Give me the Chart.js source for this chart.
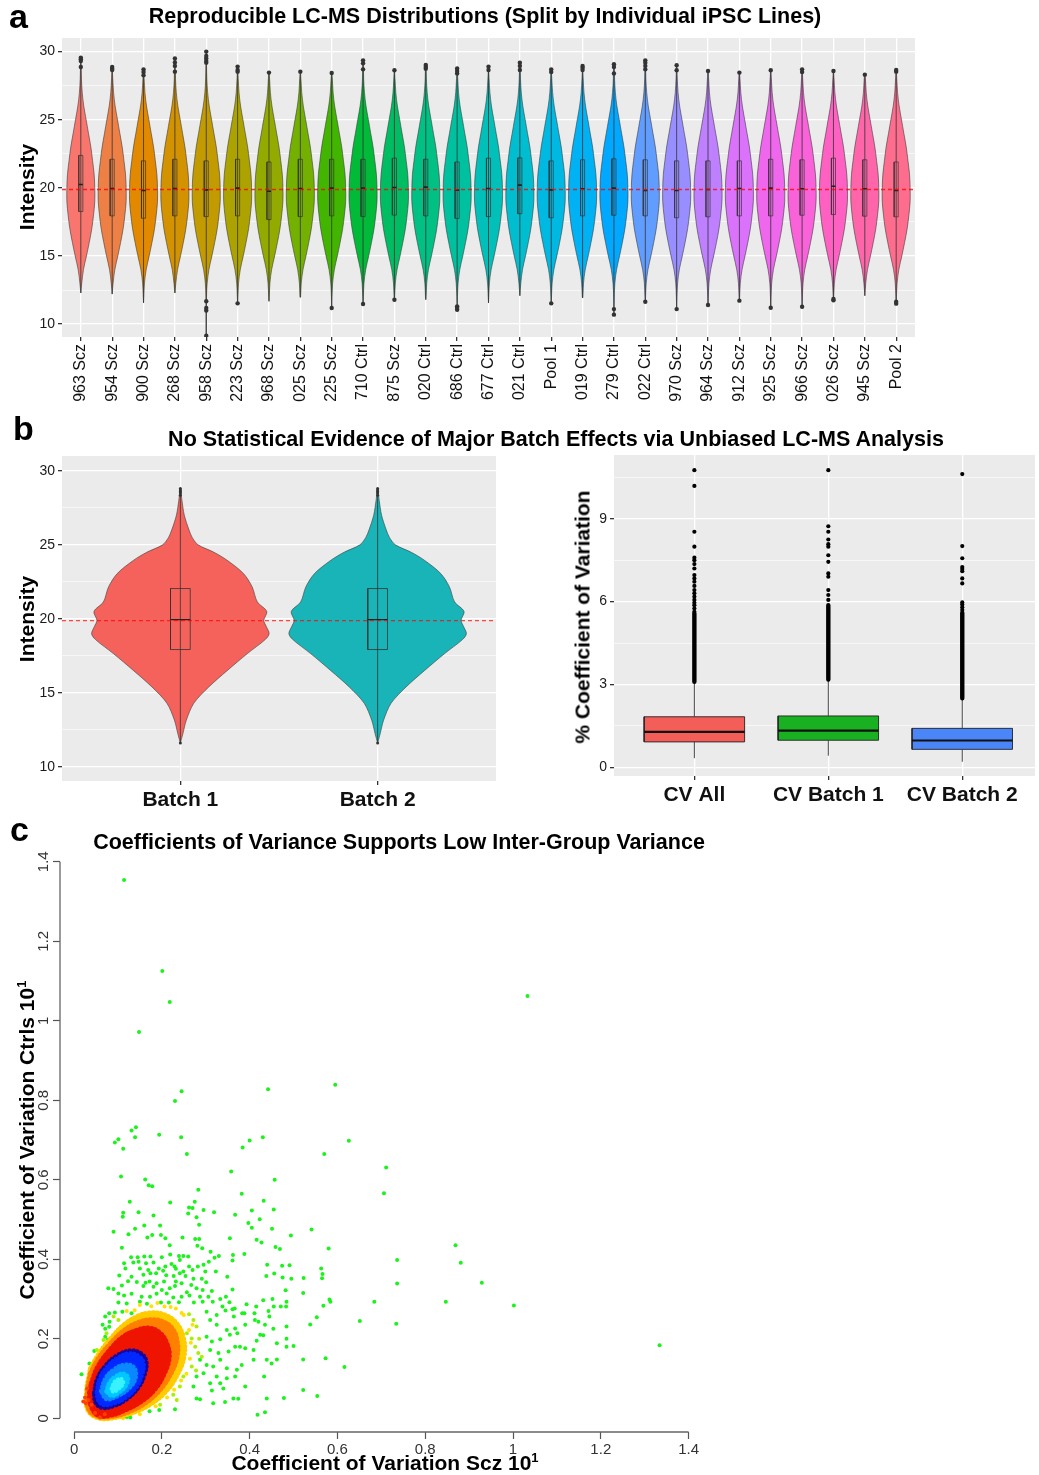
<!DOCTYPE html>
<html>
<head>
<meta charset="utf-8">
<title>LC-MS figure</title>
<script src="https://cdn.jsdelivr.net/npm/chart.js@4.4.1/dist/chart.umd.min.js"></script>
<style>
body { margin: 0; background: #fff; }
#page { position: relative; width: 1039px; height: 1475px; overflow: hidden; font-family: 'Liberation Sans', Arial, sans-serif; color: #000; }
canvas { position: absolute; }
.lbl { position: absolute; font-weight: bold; white-space: nowrap; line-height: 1; }
.panel { font-size: 34px; }
.ttl { font-size: 21.5px; transform: translateX(-50%); }
.axt { font-size: 21px; transform: translate(-50%, -50%); }
.rot { transform: translate(-50%, -50%) rotate(-90deg); }
</style>
</head>
<body>
<div id="page">
  <canvas id="chartA" width="1039" height="410" style="left:0;top:0"></canvas>
  <canvas id="chartB1" width="510" height="400" style="left:0;top:420px"></canvas>
  <canvas id="chartB2" width="519" height="400" style="left:520px;top:420px"></canvas>
  <canvas id="chartC" width="720" height="635" style="left:0;top:840px"></canvas>

  <div class="lbl panel" style="left:9px;top:-1px">a</div>
  <div class="lbl ttl" style="left:485px;top:6px">Reproducible LC-MS Distributions (Split by Individual iPSC Lines)</div>
  <div class="lbl axt rot" style="left:26px;top:187px">Intensity</div>

  <div class="lbl panel" style="left:13px;top:411px">b</div>
  <div class="lbl ttl" style="left:556px;top:428.5px">No Statistical Evidence of Major Batch Effects via Unbiased LC-MS Analysis</div>
  <div class="lbl axt rot" style="left:26px;top:619px">Intensity</div>
  <div class="lbl axt rot" style="left:582px;top:617px">% Coefficient of Variation</div>

  <div class="lbl panel" style="left:10px;top:812px">c</div>
  <div class="lbl ttl" style="left:399px;top:832px">Coefficients of Variance Supports Low Inter-Group Variance</div>
  <div class="lbl axt" style="left:385px;top:1462px">Coefficient of Variation Scz 10<sup style="font-size:13px">1</sup></div>
  <div class="lbl axt rot" style="left:26px;top:1140px">Coefficient of Variation Ctrls 10<sup style="font-size:13px">1</sup></div>
</div>

<script>
// ---------- panel a: per iPSC line ----------
const lineLabels = ['963 Scz', '954 Scz', '900 Scz', '268 Scz', '958 Scz', '223 Scz', '968 Scz', '025 Scz', '225 Scz',
  '710 Ctrl', '875 Scz', '020 Ctrl', '686 Ctrl', '677 Ctrl', '021 Ctrl', 'Pool 1', '019 Ctrl', '279 Ctrl', '022 Ctrl',
  '970 Scz', '964 Scz', '912 Scz', '925 Scz', '966 Scz', '026 Scz', '945 Scz', 'Pool 2'];
const lineMedian = [20.25, 19.95, 19.8, 19.95, 19.85, 19.98, 19.75, 19.95, 19.98, 19.98, 20.02, 20.05, 19.83, 19.95,
  20.2, 19.85, 19.93, 19.98, 19.8, 19.8, 19.88, 19.95, 19.98, 19.93, 20.12, 19.93, 19.8];
const lineQ1 = [18.26, 17.94, 17.77, 17.94, 17.89, 17.94, 17.67, 17.89, 17.94, 17.89, 18.0, 17.94, 17.75, 17.89,
  18.1, 17.8, 17.94, 17.99, 17.94, 17.8, 17.87, 17.94, 17.94, 17.99, 18.04, 17.92, 17.87];
const lineQ3 = [22.38, 22.1, 21.98, 22.1, 21.98, 22.1, 21.9, 22.1, 22.1, 22.1, 22.18, 22.1, 21.9, 22.18,
  22.2, 21.98, 22.06, 22.13, 22.06, 21.98, 21.98, 21.98, 22.1, 22.06, 22.18, 22.06, 21.9];
const lineMin = [12.28, 12.2, 11.55, 12.28, 9.14, 11.52, 11.67, 11.96, 11.18, 11.47, 11.79, 11.79, 11.05, 11.55,
  12.08, 11.52, 11.91, 10.69, 11.64, 11.1, 11.4, 11.72, 11.2, 11.27, 11.74, 12.08, 11.5];
const lineMax = [29.56, 28.87, 28.7, 29.5, 30.0, 28.9, 28.46, 28.53, 28.43, 29.36, 28.63, 29.02, 28.77, 28.9,
  29.19, 28.7, 28.95, 29.07, 29.36, 29.0, 28.58, 28.46, 28.63, 28.7, 28.58, 28.31, 28.65];
const lineOutliers = [
  [29.56, 29.44, 29.31, 28.87], [28.87, 28.75, 28.65], [28.7, 28.5, 28.26], [29.5, 29.2, 28.95, 28.53],
  [30.0, 29.68, 29.49, 29.31, 29.19, 11.67, 11.18, 11.0, 9.14], [28.9, 28.65, 28.53, 11.52], [28.46], [28.53],
  [28.43, 11.18], [29.36, 29.14, 28.7, 11.47], [28.63, 11.79], [29.02, 28.87, 28.75],
  [28.77, 28.58, 28.4, 11.3, 11.18, 11.05], [28.9, 28.65], [29.19, 28.95, 28.65], [28.7, 28.5, 11.52],
  [28.95, 28.82, 28.65], [29.07, 28.87, 28.4, 11.1, 10.69], [29.36, 29.19, 28.95, 28.7, 11.64], [29.0, 28.63, 11.1],
  [28.58, 11.4], [28.46, 11.72], [28.63, 11.2], [28.7, 28.5, 11.27], [28.58, 11.84, 11.74], [28.31],
  [28.65, 28.53, 11.64, 11.5]
];
// shared density outline (half width in category units)
const intensityLevels = [12, 13, 14, 15, 16, 17, 18, 19, 20, 21, 22, 23, 24, 25, 26, 27, 28, 29];
const lineHalfWidth = [0.01, 0.03, 0.085, 0.18, 0.27, 0.35, 0.405, 0.445, 0.445, 0.425, 0.375, 0.32, 0.245, 0.17, 0.095, 0.045, 0.02, 0.01];
const grandMedian = 19.88;
const intensityTicks = [10, 12.5, 15, 17.5, 20, 22.5, 25, 27.5, 30];

// ---------- panel b: batches ----------
const batchLabels = ['Batch 1', 'Batch 2'];
const batchLevels = [11.6, 12.25, 13.15, 14.3, 15.4, 16.5, 17.66, 18.6, 19.0, 19.5, 19.9, 20.5, 21.15, 22.16, 23.06, 23.96, 24.5, 25.0, 25.5, 26.0, 27.0, 28.0, 28.8];
const batchHalfWidth = [0, 0.013, 0.03, 0.068, 0.144, 0.237, 0.34, 0.43, 0.45, 0.435, 0.423, 0.438, 0.39, 0.364, 0.32, 0.237, 0.17, 0.09, 0.06, 0.044, 0.02, 0.008, 0];
const batchMedian = [19.95, 19.95];
const batchQ1 = [17.93, 17.93];
const batchQ3 = [22.05, 22.05];
const batchMin = [11.6, 11.6];
const batchMax = [28.8, 28.8];
const batchOutliers = [[28.35, 28.5, 28.6, 28.7, 28.8, 11.62], [28.35, 28.5, 28.6, 28.7, 28.8, 11.62]];

const cvLabels = ['CV All', 'CV Batch 1', 'CV Batch 2'];
const cvQ1 = [0.92, 0.98, 0.65];
const cvMedian = [1.28, 1.33, 0.97];
const cvQ3 = [1.83, 1.86, 1.41];
const cvLow = [0.33, 0.42, 0.2];
const cvHigh = [3.1, 3.18, 2.5];
const cvDenseTop = [5.57, 5.87, 5.6];
const cvSparse = [
  [5.63, 5.75, 5.87, 5.96, 6.06, 6.18, 6.3, 6.42, 6.57, 6.72, 6.84, 6.96, 7.2, 7.36, 7.5, 7.59, 7.99, 8.53, 10.19, 10.76],
  [6.06, 6.24, 6.42, 6.9, 7.02, 7.44, 7.68, 7.99, 8.08, 8.25, 8.53, 8.73, 10.76],
  [5.7, 5.8, 5.9, 5.97, 6.66, 6.84, 7.1, 7.18, 7.25, 7.57, 8.01, 10.62]
];
const cvTicks = [0, 1.5, 3, 4.5, 6, 7.5, 9, 10.5];

// ---------- panel c: CV Scz vs CV Ctrls ----------
const cvXTicks = [0, 0.2, 0.4, 0.6, 0.8, 1, 1.2, 1.4];
const cvYTicks = [0, 0.2, 0.4, 0.6, 0.8, 1, 1.2, 1.4];
// density contours of the dense core (outer to inner)
const densYellow = [[0.036, 0.125], [0.057, 0.165], [0.084, 0.203], [0.112, 0.235], [0.143, 0.257], [0.173, 0.266], [0.205, 0.262], [0.234, 0.240], [0.250, 0.203], [0.252, 0.158], [0.238, 0.113], [0.211, 0.068], [0.174, 0.034], [0.132, 0.012], [0.090, 0.000], [0.055, 0.000], [0.031, 0.020], [0.027, 0.063]];
const densOrange = [[0.036, 0.113], [0.055, 0.152], [0.082, 0.189], [0.112, 0.221], [0.143, 0.241], [0.173, 0.249], [0.201, 0.245], [0.225, 0.226], [0.236, 0.194], [0.236, 0.155], [0.222, 0.113], [0.197, 0.071], [0.164, 0.038], [0.127, 0.016], [0.090, 0.004], [0.055, 0.004], [0.033, 0.021], [0.029, 0.063]];
const densRed = [[0.038, 0.088], [0.053, 0.130], [0.080, 0.172], [0.110, 0.205], [0.141, 0.222], [0.171, 0.228], [0.196, 0.216], [0.212, 0.190], [0.218, 0.155], [0.207, 0.113], [0.184, 0.071], [0.152, 0.040], [0.116, 0.019], [0.082, 0.006], [0.055, 0.006], [0.039, 0.027], [0.034, 0.059]];
const densNavy = [[0.044, 0.063], [0.052, 0.101], [0.071, 0.134], [0.097, 0.159], [0.128, 0.172], [0.154, 0.164], [0.166, 0.143], [0.162, 0.109], [0.147, 0.075], [0.120, 0.046], [0.090, 0.029], [0.063, 0.025], [0.048, 0.038]];
const densBlue = [[0.050, 0.066], [0.057, 0.101], [0.074, 0.130], [0.098, 0.153], [0.126, 0.165], [0.149, 0.157], [0.160, 0.138], [0.156, 0.108], [0.143, 0.077], [0.119, 0.051], [0.092, 0.036], [0.067, 0.032], [0.054, 0.044]];
const densSky = [[0.060, 0.068], [0.070, 0.101], [0.090, 0.124], [0.114, 0.136], [0.137, 0.130], [0.142, 0.103], [0.127, 0.075], [0.099, 0.054], [0.073, 0.047]];
const densCyan = [[0.072, 0.067], [0.079, 0.090], [0.093, 0.106], [0.112, 0.114], [0.124, 0.104], [0.120, 0.082], [0.106, 0.066], [0.086, 0.055]];
const densCore = [[0.084, 0.074], [0.092, 0.093], [0.108, 0.100], [0.113, 0.088], [0.101, 0.072], [0.089, 0.066]];
// single proteins outside the core
const sparseGreen = [
  [0.114, 1.354], [0.201, 1.125], [0.218, 1.047], [0.148, 0.972], [1.033, 1.062], [0.595, 0.839], [0.442, 0.828], [0.245, 0.823], [0.230, 0.798],
  [0.141, 0.732], [0.131, 0.724], [0.139, 0.707], [0.101, 0.702], [0.093, 0.694], [0.112, 0.678], [0.194, 0.713], [0.244, 0.707], [0.257, 0.665], [0.384, 0.681], [0.400, 0.699], [0.430, 0.707], [0.626, 0.698], [0.570, 0.665],
  [0.358, 0.621], [0.107, 0.608], [0.162, 0.601], [0.170, 0.586], [0.178, 0.584], [0.457, 0.600], [0.283, 0.575], [0.382, 0.565], [0.127, 0.545], [0.219, 0.543], [0.275, 0.545], [0.432, 0.547], [0.262, 0.530], [0.270, 0.529], [0.295, 0.524], [0.147, 0.518], [0.111, 0.507], [0.112, 0.517], [0.260, 0.515], [0.279, 0.506], [0.319, 0.518], [0.367, 0.512], [0.405, 0.523], [0.455, 0.525],
  [0.181, 0.510], [0.423, 0.501], [0.090, 0.469], [0.124, 0.463], [0.139, 0.477], [0.160, 0.485], [0.196, 0.485], [0.285, 0.487], [0.397, 0.491], [0.405, 0.479], [0.451, 0.477], [0.541, 0.475], [0.167, 0.455], [0.178, 0.461], [0.198, 0.461], [0.208, 0.453], [0.247, 0.455], [0.276, 0.451], [0.285, 0.451], [0.355, 0.453], [0.416, 0.449], [0.427, 0.442], [0.494, 0.460], [0.109, 0.429], [0.218, 0.435], [0.281, 0.434], [0.292, 0.428], [0.459, 0.431], [0.469, 0.426], [0.580, 0.427], [0.311, 0.419], [0.388, 0.413], [0.362, 0.411],
  [0.130, 0.405], [0.145, 0.405], [0.160, 0.407], [0.174, 0.407], [0.200, 0.405], [0.219, 0.412], [0.239, 0.408], [0.249, 0.408], [0.260, 0.407], [0.320, 0.404], [0.330, 0.408], [0.361, 0.397], [0.114, 0.390], [0.135, 0.392], [0.147, 0.394], [0.164, 0.390], [0.181, 0.392], [0.208, 0.382], [0.222, 0.388], [0.229, 0.382], [0.241, 0.398], [0.262, 0.382], [0.282, 0.382], [0.295, 0.386], [0.307, 0.394], [0.440, 0.386], [0.474, 0.384], [0.491, 0.385], [0.563, 0.377],
  [0.117, 0.377], [0.150, 0.377], [0.169, 0.373], [0.193, 0.377], [0.203, 0.371], [0.232, 0.376], [0.249, 0.369], [0.270, 0.373], [0.299, 0.369], [0.323, 0.369], [0.103, 0.359], [0.131, 0.356], [0.158, 0.361], [0.174, 0.365], [0.187, 0.365], [0.210, 0.360], [0.227, 0.358], [0.241, 0.365], [0.254, 0.358], [0.272, 0.351], [0.291, 0.351], [0.301, 0.342], [0.349, 0.356], [0.438, 0.358], [0.456, 0.364], [0.475, 0.354], [0.495, 0.351], [0.523, 0.353], [0.566, 0.363], [0.565, 0.352],
  [0.123, 0.345], [0.143, 0.343], [0.163, 0.341], [0.172, 0.344], [0.188, 0.340], [0.205, 0.344], [0.232, 0.344], [0.245, 0.340], [0.267, 0.335],
  [0.078, 0.327], [0.090, 0.325], [0.109, 0.334], [0.158, 0.333], [0.181, 0.331], [0.200, 0.323], [0.218, 0.327], [0.230, 0.333], [0.257, 0.317], [0.279, 0.327], [0.293, 0.323], [0.314, 0.320], [0.361, 0.324], [0.482, 0.322], [0.522, 0.315], [0.101, 0.314], [0.114, 0.309], [0.131, 0.313], [0.154, 0.306], [0.173, 0.306], [0.188, 0.313], [0.211, 0.314], [0.226, 0.304], [0.245, 0.306], [0.263, 0.309], [0.287, 0.306], [0.306, 0.306], [0.333, 0.300], [0.346, 0.306], [0.354, 0.292], [0.393, 0.287], [0.431, 0.297], [0.452, 0.300], [0.484, 0.293], [0.582, 0.299], [0.584, 0.293], [0.684, 0.293],
  [0.101, 0.291], [0.120, 0.289], [0.150, 0.293], [0.166, 0.288], [0.198, 0.291], [0.216, 0.291], [0.239, 0.292], [0.273, 0.291], [0.293, 0.293], [0.316, 0.293], [0.338, 0.281], [0.361, 0.274], [0.383, 0.264], [0.366, 0.276], [0.415, 0.281], [0.443, 0.270], [0.455, 0.281], [0.471, 0.281], [0.483, 0.281], [0.568, 0.283], [0.080, 0.264], [0.071, 0.256], [0.093, 0.266], [0.110, 0.268], [0.131, 0.264], [0.302, 0.268], [0.325, 0.260], [0.345, 0.271], [0.364, 0.256], [0.388, 0.264], [0.411, 0.264], [0.445, 0.256], [0.553, 0.254],
  [0.065, 0.235], [0.071, 0.225], [0.080, 0.230], [0.081, 0.243], [0.310, 0.247], [0.325, 0.235], [0.348, 0.222], [0.367, 0.226], [0.390, 0.235], [0.412, 0.247], [0.435, 0.235], [0.420, 0.243], [0.454, 0.225], [0.484, 0.231], [0.538, 0.236], [0.651, 0.245], [0.071, 0.205], [0.076, 0.197], [0.302, 0.205], [0.314, 0.193], [0.333, 0.199], [0.355, 0.210], [0.372, 0.214], [0.378, 0.180], [0.416, 0.195], [0.424, 0.210], [0.431, 0.209], [0.462, 0.189], [0.484, 0.200], [0.046, 0.169], [0.059, 0.164], [0.310, 0.172], [0.329, 0.164], [0.352, 0.168], [0.367, 0.180], [0.390, 0.176], [0.409, 0.172], [0.484, 0.180], [0.500, 0.182],
  [0.035, 0.138], [0.017, 0.111], [0.287, 0.147], [0.302, 0.134], [0.317, 0.130], [0.333, 0.147], [0.348, 0.126], [0.371, 0.122], [0.382, 0.134], [0.409, 0.147], [0.439, 0.147], [0.450, 0.138], [0.462, 0.148], [0.522, 0.148], [0.573, 0.151], [0.616, 0.129], [0.279, 0.105], [0.295, 0.113], [0.325, 0.105], [0.348, 0.101], [0.367, 0.105], [0.433, 0.105], [0.310, 0.088], [0.333, 0.088], [0.340, 0.075], [0.390, 0.080], [0.272, 0.080], [0.279, 0.050], [0.287, 0.048], [0.314, 0.070], [0.317, 0.038], [0.344, 0.041], [0.363, 0.050], [0.374, 0.049], [0.439, 0.050], [0.478, 0.051], [0.522, 0.071], [0.554, 0.056], [0.418, 0.009], [0.435, 0.015], [0.230, 0.023], [0.194, 0.021], [0.172, 0.018], [0.120, 0.003], [0.128, 0.002],
  [0.711, 0.631], [0.706, 0.566], [0.869, 0.435], [0.736, 0.398], [0.881, 0.391], [0.736, 0.339], [0.929, 0.341], [0.847, 0.293], [1.002, 0.284], [0.734, 0.238], [1.334, 0.184]
];
const edgeLime = [[0.272, 0.247], [0.279, 0.231], [0.257, 0.214], [0.268, 0.201], [0.276, 0.180], [0.283, 0.164], [0.291, 0.155], [0.268, 0.130], [0.249, 0.105], [0.241, 0.080], [0.226, 0.059], [0.234, 0.046], [0.196, 0.034], [0.090, 0.256], [0.101, 0.247], [0.074, 0.214], [0.067, 0.197], [0.052, 0.172], [0.262, 0.262], [0.285, 0.200], [0.278, 0.120]];
const edgeYellow = [[0.12, 0.27], [0.15, 0.285], [0.19, 0.29], [0.22, 0.28], [0.25, 0.26], [0.27, 0.235], [0.10, 0.005], [0.112, 0.0],
  [0.245, 0.265], [0.232, 0.276], [0.206, 0.281], [0.176, 0.282], [0.138, 0.272], [0.262, 0.222], [0.266, 0.190], [0.264, 0.150], [0.256, 0.112], [0.244, 0.095], [0.228, 0.072], [0.212, 0.052], [0.186, 0.030], [0.150, 0.010]];
const edgeWarm = [[0.040, 0.034], [0.048, 0.013], [0.059, 0.002], [0.070, 0.010], [0.033, 0.046], [0.025, 0.052], [0.021, 0.042], [0.027, 0.038], [0.030, 0.075]];

Chart.defaults.font.family = "'Liberation Sans', Arial, sans-serif";
Chart.defaults.color = '#1a1a1a';

// ggplot default hue palette
function hueColor(i, n) {
    const h = (15 + 360 * i / n) * Math.PI / 180;
    const L = 65, C = 100;
    const u = C * Math.cos(h) / (13 * L) + 0.1978398;
    const v = C * Math.sin(h) / (13 * L) + 0.4683363;
    const Y = Math.pow((L + 16) / 116, 3);
    const X = 9 * Y * u / (4 * v);
    const Z = Y * (12 - 3 * u - 20 * v) / (4 * v);
    const lin = [3.240479 * X - 1.53715 * Y - 0.498535 * Z,
        -0.969256 * X + 1.875992 * Y + 0.041556 * Z,
        0.055648 * X - 0.204043 * Y + 1.057311 * Z];
    const rgb = lin.map(c => {
        c = c <= 0.0031308 ? 12.92 * c : 1.055 * Math.pow(c, 1 / 2.4) - 0.055;
        return Math.round(255 * Math.min(1, Math.max(0, c)));
    });
    return `rgb(${rgb.join(',')})`;
}

function violinShape(cx, levels, widths, lo, hi) {
    const right = [{x: cx, y: lo}];
    levels.forEach((lv, i) => {
        if (lv > lo && lv < hi) right.push({x: cx + widths[i], y: lv});
    });
    right.push({x: cx, y: hi});
    const left = right.slice(1, -1).reverse().map(p => ({x: 2 * cx - p.x, y: p.y}));
    return right.concat(left, [{x: cx, y: lo}]);
}

function boxShape(cx, w, q1, q3) {
    return [{x: cx - w, y: q1}, {x: cx + w, y: q1}, {x: cx + w, y: q3}, {x: cx - w, y: q3}, {x: cx - w, y: q1}];
}

function toPoints(arr) {
    return arr.map(p => ({x: p[0], y: p[1]}));
}

function closed(arr) {
    const pts = toPoints(arr);
    pts.push(pts[0]);
    return pts;
}

// grey ggplot panel
const ggPanel = {
    id: 'ggPanel',
    beforeDraw(chart) {
        const a = chart.chartArea;
        const ctx = chart.ctx;
        ctx.save();
        ctx.fillStyle = '#EBEBEB';
        ctx.fillRect(a.left, a.top, a.right - a.left, a.bottom - a.top);
        ctx.restore();
    }
};

function ggY(min, max, ticks, major, width) {
    return {
        type: 'linear', min: min, max: max,
        afterBuildTicks: s => { s.ticks = ticks.map(v => ({value: v})); },
        afterFit: s => { s.width = width; },
        border: {display: false},
        grid: {
            color: '#FFFFFF',
            lineWidth: c => (c.tick && c.tick.value % major === 0) ? 1.3 : 0.6,
            tickColor: c => (c.tick && c.tick.value % major === 0) ? '#333333' : 'rgba(0,0,0,0)',
            tickLength: 4
        },
        ticks: {callback: v => (v % major === 0 ? String(v) : ''), color: '#1a1a1a', font: {size: 14}, padding: 3}
    };
}

function ggX(min, max, labels, height, font, rotation) {
    return {
        type: 'linear', min: min, max: max,
        afterBuildTicks: s => { s.ticks = labels.map((l, i) => ({value: i})); },
        afterFit: s => { s.height = height; },
        border: {display: false},
        grid: {color: '#FFFFFF', lineWidth: 1.3, tickColor: '#333333', tickLength: 4},
        ticks: {callback: v => labels[v], autoSkip: false, maxRotation: rotation, minRotation: rotation,
            font: font, color: '#111111', padding: 3}
    };
}

function stackOrder(sets) {
    sets.forEach((d, i) => { d.order = sets.length - i; });
    return sets;
}

const baseOptions = {
    responsive: false,
    animation: false,
    events: [],
    devicePixelRatio: 1,
    plugins: {legend: {display: false}, tooltip: {enabled: false}}
};

// ---------- chart a ----------
const aSets = [];
lineLabels.forEach((name, i) => {
    aSets.push({
        data: violinShape(i, intensityLevels, lineHalfWidth, lineMin[i], lineMax[i]),
        showLine: true, fill: 'shape', backgroundColor: hueColor(i, lineLabels.length),
        borderColor: '#3a3a3a', borderWidth: 0.6, pointRadius: 0, tension: 0.35
    });
});
const aWhisk = [], aBox = [], aMed = [], aOut = [];
lineLabels.forEach((name, i) => {
    aWhisk.push({x: i, y: lineMin[i]}, {x: i, y: lineMax[i]}, {x: i, y: null});
    aBox.push(...boxShape(i, 0.065, lineQ1[i], lineQ3[i]), {x: i, y: null});
    aMed.push({x: i - 0.065, y: lineMedian[i]}, {x: i + 0.065, y: lineMedian[i]}, {x: i, y: null});
    lineOutliers[i].forEach(v => aOut.push({x: i, y: v}));
});
aSets.push({data: aWhisk, showLine: true, borderColor: '#333333', borderWidth: 0.8, pointRadius: 0});
aSets.push({data: aBox, showLine: true, borderColor: '#333333', borderWidth: 0.7, pointRadius: 0});
aSets.push({data: aMed, showLine: true, borderColor: '#222222', borderWidth: 1.6, pointRadius: 0});
aSets.push({data: aOut, pointRadius: 2.2, pointBackgroundColor: '#333333', pointBorderWidth: 0});
aSets.push({data: [{x: -0.6, y: grandMedian}, {x: lineLabels.length - 0.4, y: grandMedian}], showLine: true,
    borderColor: 'rgba(255,0,0,0.75)', borderDash: [4, 3], borderWidth: 1.3, pointRadius: 0});

new Chart(document.getElementById('chartA'), {
    type: 'scatter',
    data: {datasets: stackOrder(aSets)},
    options: Object.assign({}, baseOptions, {
        layout: {padding: {top: 38, right: 124, left: 0, bottom: 0}},
        scales: {
            x: ggX(-0.6, lineLabels.length - 0.4, lineLabels, 73, {size: 16}, 90),
            y: ggY(9.05, 31.0, intensityTicks, 5, 62)
        }
    }),
    plugins: [ggPanel]
});

// ---------- chart b1 ----------
const batchColors = ['#F5625C', '#18B4B7'];
const bSets = [];
batchLabels.forEach((name, i) => {
    bSets.push({
        data: violinShape(i, batchLevels, batchHalfWidth, batchMin[i], batchMax[i]),
        showLine: true, fill: 'shape', backgroundColor: batchColors[i],
        borderColor: '#3a3a3a', borderWidth: 0.6, pointRadius: 0, tension: 0.3
    });
});
const bWhisk = [], bBox = [], bMed = [], bOut = [];
batchLabels.forEach((name, i) => {
    bWhisk.push({x: i, y: batchMin[i]}, {x: i, y: batchMax[i]}, {x: i, y: null});
    bBox.push(...boxShape(i, 0.05, batchQ1[i], batchQ3[i]), {x: i, y: null});
    bMed.push({x: i - 0.05, y: batchMedian[i]}, {x: i + 0.05, y: batchMedian[i]}, {x: i, y: null});
    batchOutliers[i].forEach(v => bOut.push({x: i, y: v}));
});
bSets.push({data: bWhisk, showLine: true, borderColor: '#333333', borderWidth: 0.8, pointRadius: 0});
bSets.push({data: bBox, showLine: true, borderColor: '#333333', borderWidth: 0.8, pointRadius: 0});
bSets.push({data: bMed, showLine: true, borderColor: '#222222', borderWidth: 1.4, pointRadius: 0});
bSets.push({data: bOut, pointRadius: 1.5, pointBackgroundColor: '#333333', pointBorderWidth: 0});
bSets.push({data: [{x: -0.6, y: grandMedian}, {x: 1.6, y: grandMedian}], showLine: true,
    borderColor: 'rgba(255,0,0,0.7)', borderDash: [4, 3], borderWidth: 1.3, pointRadius: 0});

new Chart(document.getElementById('chartB1'), {
    type: 'scatter',
    data: {datasets: stackOrder(bSets)},
    options: Object.assign({}, baseOptions, {
        layout: {padding: {top: 36, right: 14, left: 0, bottom: 0}},
        scales: {
            x: ggX(-0.6, 1.6, batchLabels, 39, {size: 21, weight: 'bold'}, 0),
            y: ggY(9.05, 31.0, intensityTicks, 5, 62)
        }
    }),
    plugins: [ggPanel]
});

// ---------- chart b2 ----------
const cvColors = ['#F45E58', '#19B022', '#4A86F7'];
const cSets = [];
cvLabels.forEach((name, i) => {
    cSets.push({data: boxShape(i, 0.375, cvQ1[i], cvQ3[i]), showLine: true, fill: 'shape',
        backgroundColor: cvColors[i], borderColor: '#222222', borderWidth: 0.9, pointRadius: 0});
});
const cvWhisk = [], cvMed = [], cvDense = [], cvOut = [];
cvLabels.forEach((name, i) => {
    cvWhisk.push({x: i, y: cvLow[i]}, {x: i, y: cvQ1[i]}, {x: i, y: null});
    cvWhisk.push({x: i, y: cvQ3[i]}, {x: i, y: cvHigh[i]}, {x: i, y: null});
    cvMed.push({x: i - 0.375, y: cvMedian[i]}, {x: i + 0.375, y: cvMedian[i]}, {x: i, y: null});
    cvDense.push({x: i, y: cvHigh[i]}, {x: i, y: cvDenseTop[i]}, {x: i, y: null});
    cvSparse[i].forEach(v => cvOut.push({x: i, y: v}));
});
cSets.push({data: cvWhisk, showLine: true, borderColor: '#333333', borderWidth: 0.9, pointRadius: 0});
cSets.push({data: cvMed, showLine: true, borderColor: '#111111', borderWidth: 2.2, pointRadius: 0});
cSets.push({data: cvDense, showLine: true, borderColor: '#000000', borderWidth: 4.4, borderCapStyle: 'round', pointRadius: 0});
cSets.push({data: cvOut, pointRadius: 2.1, pointBackgroundColor: '#000000', pointBorderWidth: 0});

new Chart(document.getElementById('chartB2'), {
    type: 'scatter',
    data: {datasets: stackOrder(cSets)},
    options: Object.assign({}, baseOptions, {
        layout: {padding: {top: 35, right: 0, left: 0, bottom: 0}},
        scales: {
            x: ggX(-0.6, 2.543, cvLabels, 44, {size: 21, weight: 'bold'}, 0),
            y: ggY(-0.315, 11.31, cvTicks, 3, 94)
        }
    }),
    plugins: [ggPanel]
});

// ---------- chart c ----------
const baseAxes = {
    id: 'baseAxes',
    afterDraw(chart) {
        const xs = chart.scales.x, ys = chart.scales.y, a = chart.chartArea, ctx = chart.ctx;
        ctx.save();
        ctx.strokeStyle = '#666666';
        ctx.lineWidth = 1.3;
        ctx.beginPath();
        ctx.moveTo(xs.getPixelForValue(cvXTicks[0]), a.bottom);
        ctx.lineTo(xs.getPixelForValue(cvXTicks[cvXTicks.length - 1]), a.bottom);
        ctx.moveTo(a.left, ys.getPixelForValue(cvYTicks[0]));
        ctx.lineTo(a.left, ys.getPixelForValue(cvYTicks[cvYTicks.length - 1]));
        ctx.stroke();
        // y labels parallel to the axis, as in base R
        ctx.fillStyle = '#333333';
        ctx.font = "15px 'Liberation Sans', Arial, sans-serif";
        ctx.textAlign = 'center';
        ctx.textBaseline = 'middle';
        cvYTicks.forEach(v => {
            ctx.save();
            ctx.translate(a.left - 16, ys.getPixelForValue(v));
            ctx.rotate(-Math.PI / 2);
            ctx.fillText(String(v), 0, 0);
            ctx.restore();
        });
        ctx.restore();
    }
};

// filled contour with a dotted rim so the edge looks speckled
function layer(arr, color, rim) {
    return {data: closed(arr), showLine: true, fill: 'shape', backgroundColor: color,
        borderColor: color, borderWidth: rim, borderDash: [1, 3], borderCapStyle: 'round',
        pointRadius: 0, tension: 0.4};
}
function dots(arr, color, r) {
    return {data: toPoints(arr), pointRadius: r, pointBackgroundColor: color, pointBorderWidth: 0};
}

const dSets = [
    dots(sparseGreen, '#1CF21C', 2.0),
    dots(edgeLime, '#A8F000', 2.0),
    dots(edgeYellow, '#FFE000', 2.0),
    layer(densYellow, '#FFCC00', 4),
    layer(densOrange, '#FF8000', 4),
    layer(densRed, '#EE1400', 4),
    layer(densNavy, '#1A0096', 3),
    layer(densBlue, '#0028FF', 3),
    layer(densSky, '#0A88FF', 3),
    layer(densCyan, '#00C8FF', 3),
    layer(densCore, '#38F2FF', 3),
    dots(edgeWarm, '#FF4000', 2.0)
];

function baseTickAxis(min, max, ticks, showLabels, fitSize, isX) {
    return {
        type: 'linear', min: min, max: max,
        afterBuildTicks: s => { s.ticks = ticks.map(v => ({value: v})); },
        afterFit: s => { if (isX) s.height = fitSize; else s.width = fitSize; },
        border: {display: false},
        grid: {drawOnChartArea: false, drawTicks: true, tickLength: 7, tickColor: '#555555', tickWidth: 1.2},
        ticks: {display: showLabels, callback: v => String(v), color: '#333333', font: {size: 15}, padding: 2}
    };
}

new Chart(document.getElementById('chartC'), {
    type: 'scatter',
    data: {datasets: stackOrder(dSets)},
    options: Object.assign({}, baseOptions, {
        layout: {padding: {top: 15, right: 20, left: 0, bottom: 0}},
        scales: {
            x: baseTickAxis(-0.032, 1.426, cvXTicks, true, 43, true),
            y: baseTickAxis(-0.0345, 1.417, cvYTicks, false, 60, false)
        }
    }),
    plugins: [baseAxes]
});
</script>
</body>
</html>
